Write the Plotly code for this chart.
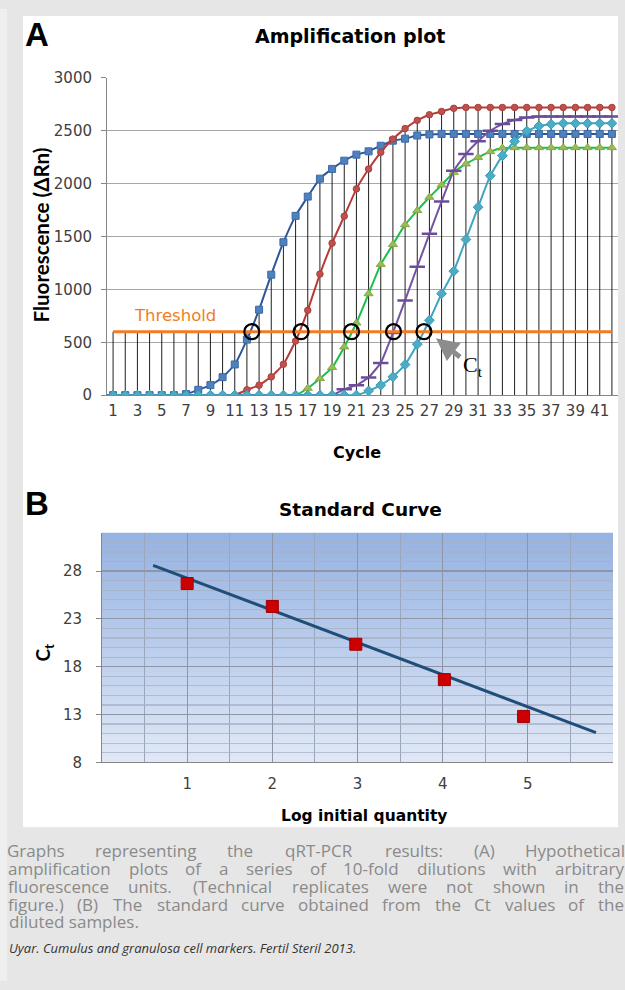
import plotly.graph_objects as go

W, H = 625, 990
# the capture maps figure y to picture y as  y_pic = 8 + 0.984 * y_fig ; compensate
Y_OFF, Y_SCALE = 8.0, 0.984


def fx(p):
    return p / W


def fy(p):
    return 1 - ((p - Y_OFF) / Y_SCALE) / H


# ---------------- data: amplification plot ----------------
cycles = [1, 2, 3, 4, 5, 6, 7, 8, 9, 10, 11, 12, 13, 14, 15, 16, 17, 18, 19, 20, 21,
          22, 23, 24, 25, 26, 27, 28, 29, 30, 31, 32, 33, 34, 35, 36, 37, 38, 39, 40, 41, 42]
cycle_ticks = [1, 3, 5, 7, 9, 11, 13, 15, 17, 19, 21, 23, 25, 27, 29, 31, 33, 35, 37, 39, 41]

blue = [0, 0, 0, 0, 0, 0, 10, 50, 95, 170, 290, 525, 808, 1139, 1446, 1695, 1877, 2047,
        2139, 2217, 2274, 2305, 2358, 2406, 2425, 2455, 2465, 2470, 2470, 2470, 2470, 2470,
        2470, 2470, 2470, 2470, 2470, 2470, 2470, 2470, 2470, 2470]
red = [0, 0, 0, 0, 0, 0, 0, 0, 0, 0, 0, 50, 94, 173, 292, 512, 802, 1145, 1437, 1692,
       1950, 2138, 2296, 2421, 2520, 2598, 2651, 2682, 2712, 2720, 2720, 2720, 2720, 2720,
       2720, 2720, 2720, 2720, 2720, 2720, 2720, 2720]
green = [0, 0, 0, 0, 0, 0, 0, 0, 0, 0, 0, 0, 0, 0, 0, 0, 65, 157, 261, 456, 682, 959,
         1236, 1425, 1612, 1745, 1871, 1987, 2107, 2186, 2248, 2302, 2336, 2340, 2340,
         2340, 2340, 2340, 2340, 2340, 2340, 2340]
purple = [0, 0, 0, 0, 0, 0, 0, 0, 0, 0, 0, 0, 0, 0, 0, 0, 0, 0, 0, 55, 94, 167, 305,
          588, 896, 1214, 1525, 1830, 2122, 2280, 2400, 2500, 2563, 2601, 2626, 2635,
          2635, 2635, 2635, 2635, 2635, 2635]
cyan = [0, 0, 0, 0, 0, 0, 0, 0, 0, 0, 0, 0, 0, 0, 0, 0, 0, 0, 0, 0, 0, 40, 94, 173,
        289, 481, 708, 959, 1172, 1472, 1777, 2075, 2264, 2400, 2497, 2545, 2562, 2570,
        2570, 2570, 2570, 2570]
threshold_value = 600
ct_cycles = [12.4, 16.45, 20.6, 24.05, 26.55]
amp_yticks = [0, 500, 1000, 1500, 2000, 2500, 3000]

# ---------------- data: standard curve ----------------
log_quantity = [1.0, 2.0, 2.98, 4.02, 4.95]
ct_values = [26.7, 24.3, 20.35, 16.65, 12.8]
trend_x = [0.6, 5.8]
trend_y = [28.6, 11.1]
std_xticks = [1, 2, 3, 4, 5]
std_yticks = [8, 13, 18, 23, 28]

# ---------------- styling ----------------
CHART_FONT = "DejaVu Sans"
ROT_FONT = "Lato"
TICK_COLOR = "#404040"

fig = go.Figure()

threshold = [threshold_value for _ in cycles]
all_series = [blue, red, green, purple, cyan, threshold]
drop_x, drop_y = [], []
for i, c in enumerate(cycles):
    top = max(s[i] for s in all_series)
    drop_x += [c, c, None]
    drop_y += [0, top, None]

fig.add_trace(go.Scatter(x=drop_x, y=drop_y, mode="lines",
                         line=dict(color="rgba(0,0,0,0.88)", width=1),
                         hoverinfo="skip", xaxis="x", yaxis="y"))

styles = [
    (blue, "#2F5597", dict(symbol="square", size=7, color="#4F81BD", line=dict(color="#3A6AA8", width=1))),
    (red, "#B83A36", dict(symbol="circle", size=6.5, color="#C0504D", line=dict(color="#A8403C", width=1))),
    (green, "#17C04A", dict(symbol="triangle-up", size=8, color="#9BBB59", line=dict(color="#86A844", width=1))),
    (purple, "#7552A3", dict(symbol="line-ew", size=11, color="#6B4C9A", line=dict(color="#6B4C9A", width=2.5))),
    (cyan, "#3DA5C2", dict(symbol="diamond", size=7.5, color="#4BACC6", line=dict(color="#3A9BB6", width=1))),
]
for vals, lc, mk in styles:
    fig.add_trace(go.Scatter(x=cycles, y=vals, mode="lines+markers",
                             line=dict(color=lc, width=2, shape="spline", smoothing=0.4),
                             marker=mk, xaxis="x", yaxis="y"))

fig.add_trace(go.Scatter(x=cycles, y=threshold, mode="lines",
                         line=dict(color="#F47B20", width=3), xaxis="x", yaxis="y"))

fig.add_trace(go.Scatter(x=ct_cycles, y=[threshold_value for _ in ct_cycles], mode="markers",
                         marker=dict(symbol="circle-open", size=15,
                                     line=dict(color="#000000", width=2.2), color="#000000"),
                         xaxis="x", yaxis="y"))

# standard curve
fig.add_trace(go.Scatter(x=trend_x, y=trend_y, mode="lines",
                         line=dict(color="#1F4E79", width=3), xaxis="x2", yaxis="y2"))
fig.add_trace(go.Scatter(x=log_quantity, y=ct_values, mode="markers",
                         marker=dict(symbol="square", size=12, color="#CC0000",
                                     line=dict(color="#A30000", width=1)),
                         xaxis="x2", yaxis="y2"))

# ---------------- layout ----------------
A_dom_x = [fx(107), fx(618)]
A_dom_y = [fy(395), fy(77)]
B_dom_x = [fx(102), fx(613)]
B_dom_y = [fy(763), fy(533)]

shapes = []
# light outer strip at the very left
shapes.append(dict(type="rect", xref="paper", yref="paper", x0=0, x1=fx(7), y0=0, y1=1,
                   fillcolor="#EFEFEF", line=dict(width=0), layer="below"))
# white panel
shapes.append(dict(type="rect", xref="paper", yref="paper", x0=fx(23), x1=fx(618), y0=fy(828),
                   y1=fy(15), fillcolor="white", line=dict(width=0), layer="below"))
# gradient background of standard curve
top_rgb = (150, 178, 225)
bot_rgb = (224, 232, 246)
n_bands = 46
for k in range(n_bands):
    t = (k + 0.5) / n_bands
    col = tuple(int(round(top_rgb[j] + (bot_rgb[j] - top_rgb[j]) * t)) for j in range(3))
    y_top = 533 + (763 - 533) * k / n_bands
    y_bot = 533 + (763 - 533) * (k + 1) / n_bands
    shapes.append(dict(type="rect", xref="paper", yref="paper", x0=B_dom_x[0], x1=B_dom_x[1],
                       y0=fy(y_bot + 0.5), y1=fy(y_top), fillcolor="rgb(%d,%d,%d)" % col,
                       line=dict(width=0), layer="below"))

annotations = []


def label(text, x, y, size, color="#000000", family=CHART_FONT, bold=False, angle=0,
          xanchor="center", yanchor="middle", italic=False):
    t = text
    if bold:
        t = "<b>" + t + "</b>"
    if italic:
        t = "<i>" + t + "</i>"
    annotations.append(dict(text=t, x=fx(x), y=fy(y), xref="paper", yref="paper",
                            showarrow=False, textangle=angle, xanchor=xanchor, yanchor=yanchor,
                            borderpad=0,
                            font=dict(size=size, color=color, family=family)))


label("A", 24, 34, 33, bold=True, family="Liberation Sans", xanchor="left")
label("B", 24, 504, 33, bold=True, family="Liberation Sans", xanchor="left")
label("Amplification plot", 350, 35, 19, bold=True)
label("Standard Curve", 360, 510, 18.5, bold=True)
label("Fluorescence (\u0394Rn)", 41, 235, 20.5, bold=True, angle=-90, family=ROT_FONT)
label("Cycle", 357, 452, 16, bold=True)
label("Threshold", 133, 315, 16.5, color="#F07E1E", xanchor="left")
label("C<sub>t</sub>", 462, 366, 22, family="Liberation Serif", xanchor="left")
label("C<sub>t</sub>", 44, 653, 19, bold=True, angle=-90, family=ROT_FONT)
label("Log initial quantity", 364, 817, 15.5, bold=True)

# arrow to the last Ct
annotations.append(dict(x=fx(436), y=fy(338), xref="paper", yref="paper", ax=27, ay=21,
                        showarrow=True, arrowhead=2, arrowsize=0.9, arrowwidth=5,
                        arrowcolor="#8C8C8C", text=" "))

# ---------------- caption (justified by word placement) ----------------
CAP_FONT = "Open Sans"
CAP_SIZE = 17
CAP_COLOR = "#8A8A8A"
CAL = 1.0
cw = {'a': .556, 'b': .613, 'c': .48, 'd': .613, 'e': .561, 'f': .336, 'g': .55, 'h': .613,
      'i': .258, 'j': .258, 'k': .521, 'l': .258, 'm': .93, 'n': .613, 'o': .601, 'p': .613,
      'q': .613, 'r': .408, 's': .479, 't': .358, 'u': .613, 'v': .501, 'w': .778, 'x': .53,
      'y': .502, 'z': .468, '.': .266, ':': .266, '(': .296, ')': .296, '-': .322, ',': .25}


def text_width(s, size):
    w = 0
    for ch in s:
        if ch in cw:
            w += cw[ch]
        elif ch.isdigit():
            w += .572
        elif ch.isupper():
            w += .66
        else:
            w += .55
    return w * size * CAL


caption_lines = [
    "Graphs representing the qRT-PCR results: (A) Hypothetical",
    "amplification plots of a series of 10-fold dilutions with arbitrary",
    "fluorescence units. (Technical replicates were not shown in the",
    "figure.) (B) The standard curve obtained from the Ct values of the",
    "diluted samples.",
]
caption_y = [851, 869, 887, 905, 923]
L, R = 8, 624
for li, (line, yy) in enumerate(zip(caption_lines, caption_y)):
    if li == len(caption_lines) - 1:
        label(line, L, yy, CAP_SIZE, color=CAP_COLOR, family=CAP_FONT, xanchor="left")
        continue
    words = line.split(" ")
    widths = [text_width(w_, CAP_SIZE) for w_ in words]
    gap = (R - L - sum(widths)) / (len(words) - 1)
    xpos = L
    for w_, ww in zip(words, widths):
        label(w_, xpos + ww / 2, yy, CAP_SIZE, color=CAP_COLOR, family=CAP_FONT)
        xpos += ww + gap

label("Uyar. Cumulus and granulosa cell markers. Fertil Steril 2013.", L, 949, 13,
      color="#333333", family=CAP_FONT, xanchor="left", italic=True)

axis_common = dict(tickfont=dict(family=CHART_FONT, size=15, color=TICK_COLOR), zeroline=False)

fig.update_layout(
    width=W, height=H, autosize=False, showlegend=False,
    margin=dict(l=0, r=0, t=0, b=0),
    paper_bgcolor="#E6E6E6", plot_bgcolor="rgba(0,0,0,0)",
    shapes=shapes, annotations=annotations,
    xaxis=dict(domain=A_dom_x, anchor="y", range=[0.5, 42.5], tickmode="array",
               tickvals=cycle_ticks, showgrid=False, showline=True, linecolor="#868686",
               linewidth=1, ticks="", ticklabelstandoff=2, **axis_common),
    yaxis=dict(domain=A_dom_y, anchor="x", range=[0, 3000], tickmode="array",
               tickvals=amp_yticks, showgrid=True, gridcolor="#A8A8A8", gridwidth=1,
               showline=True, linecolor="#868686", ticks="outside", ticklen=5,
               tickcolor="#868686", ticklabelstandoff=6, **axis_common),
    xaxis2=dict(domain=B_dom_x, anchor="y2", range=[0, 6], tickmode="array",
                tickvals=std_xticks, showgrid=True, gridcolor="#8D95A6", gridwidth=1,
                minor=dict(tickmode="linear", tick0=0, dtick=0.5, showgrid=True,
                           gridcolor="#9AA6BC", ticks=""),
                showline=True, linecolor="#868686", ticks="", ticklabelstandoff=8,
                mirror=False, **axis_common),
    yaxis2=dict(domain=B_dom_y, anchor="x2", range=[8, 32], tickmode="array",
                tickvals=std_yticks, showgrid=True, gridcolor="#8D95A6", gridwidth=1.2,
                minor=dict(tickmode="linear", tick0=8, dtick=1, showgrid=True,
                           gridcolor="rgba(165,176,198,0.75)", ticks=""),
                showline=True, linecolor="#868686", ticks="outside", ticklen=5,
                tickcolor="#868686", ticklabelstandoff=11, **axis_common),
)

fig.write_html(
    "out.html",
    config={"displayModeBar": False, "staticPlot": True},
    post_script=(
        "document.documentElement.style.margin='0';"
        "document.documentElement.style.padding='0';"
        "document.documentElement.style.background='#E6E6E6';"
        "document.documentElement.style.overflow='hidden';"
        "document.body.style.margin='0';"
        "document.body.style.padding='0';"
        "document.body.style.background='#E6E6E6';"
        "document.body.style.overflow='hidden';"
        "var gd=document.getElementById('{plot_id}');"
        "gd.style.position='fixed';gd.style.left='0px';gd.style.top='0px';"
    ),
)
